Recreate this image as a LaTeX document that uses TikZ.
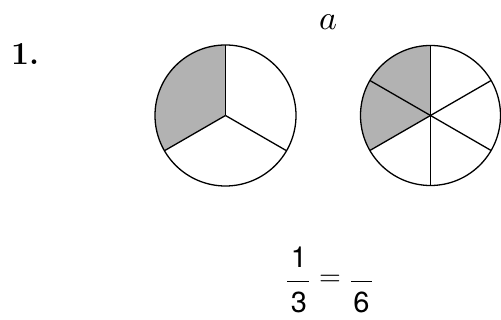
\documentclass[tikz,border=0pt]{standalone}
\usepackage{fontspec}
\usepackage{unicode-math}
\setmathfont{Latin Modern Math}
\newfontfamily\fracfont{TeX Gyre Heros}
\begin{document}
\begin{tikzpicture}[x=1pt,y=1pt,
  rim/.style={line width=1.3pt},
  spoke/.style={line width=1.3pt},
  shaded/.style={fill=black!30},
  numtext/.style={inner sep=0pt,font=\fracfont\fontsize{29}{33}\selectfont},
  fracbar/.style={line width=1.2pt}]
\useasboundingbox (0,0) rectangle (501,320);
% labels
\node[anchor=base west,inner sep=0pt,font=\bfseries\fontsize{32}{36}\selectfont] (num) at (11,255) {1.};
\node[anchor=base west,inner sep=0pt,font=\fontsize{34}{40}\selectfont] (lab) at (319,290) {$a$};
% circle 1 (thirds)
\coordinate (c1) at (225.5,204.5);
\fill[shaded] (c1) -- ++(90:70.5) arc[start angle=90,end angle=210,radius=70.5] -- cycle;
\draw[rim] (c1) circle[radius=70.5];
\foreach \a in {90,210,330} \draw[spoke] (c1) -- ++(\a:70.5);
% circle 2 (sixths)
\coordinate (c2) at (430.5,204.5);
\fill[shaded] (c2) -- ++(90:70) arc[start angle=90,end angle=210,radius=70] -- cycle;
\draw[rim] (c2) circle[radius=70];
\foreach \a in {30,90,150,210,270,330} \draw[spoke] (c2) -- ++(\a:70);
% fraction
\node[numtext,anchor=base] (n1) at (299,52) {1};
\node[numtext,anchor=base] (d1) at (299,7) {3};
\node[numtext,anchor=base] (d2) at (361.5,7) {6};
\draw[fracbar] (287,38.5) -- (309,38.5);
\draw[fracbar] (351,38.5) -- (372,38.5);
\node[inner sep=0pt,font=\fontsize{28}{32}\selectfont] (eq) at (330.5,40) {$=$};
\end{tikzpicture}
\end{document}
